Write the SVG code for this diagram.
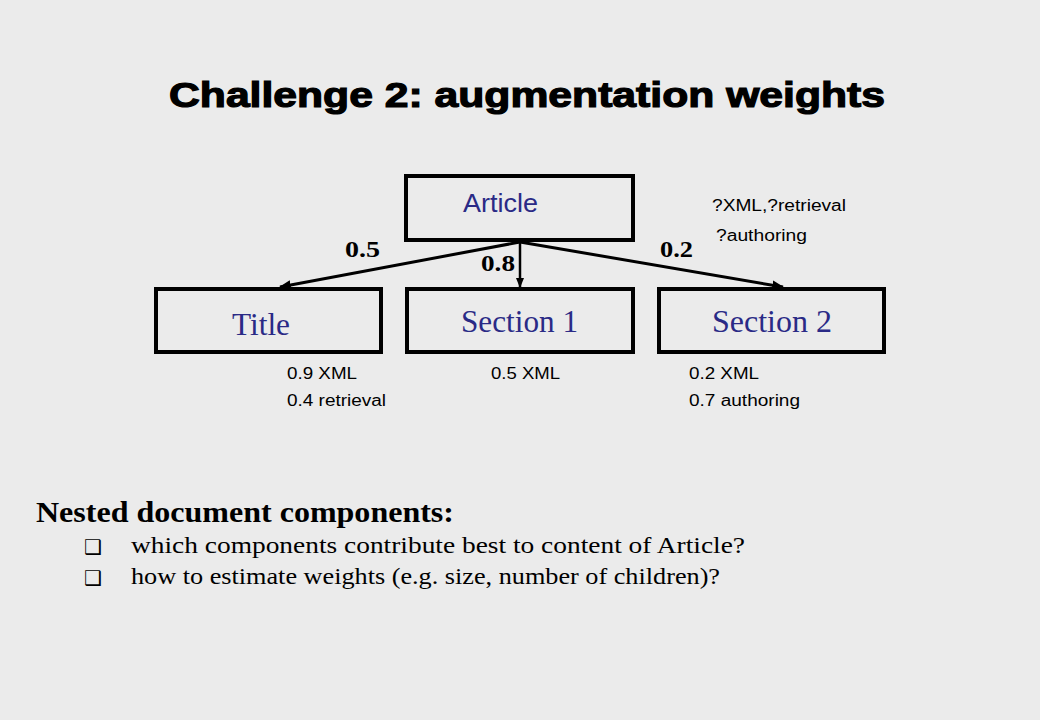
<svg xmlns="http://www.w3.org/2000/svg" width="1040" height="720" viewBox="0 0 1040 720">
<style>
.box{fill:none;stroke:#000;stroke-width:4}
.lbl{font-family:"Liberation Serif",serif;fill:#2a2a86;font-size:31px}
.w{font-family:"Liberation Serif",serif;font-weight:bold;font-size:23px;fill:#000}
.s{font-family:"Liberation Sans",Arial,sans-serif;font-size:16px;fill:#000}
.b{font-family:"Liberation Serif",serif;font-size:24px;fill:#000}
.edge{stroke:#000;fill:none}
</style>
<defs>
<marker id="ah" viewBox="0 0 10 10" refX="9" refY="5" markerWidth="4" markerHeight="4" orient="auto" markerUnits="strokeWidth"><path d="M0,1 L10,5 L0,9 z" fill="#000"/></marker>
</defs>
<rect width="1040" height="720" fill="#ebebeb"/>
<text x="527" y="107" text-anchor="middle" font-family="'Liberation Sans',Arial,sans-serif" font-weight="bold" font-size="35" stroke="#000" stroke-width="1.2" textLength="716" lengthAdjust="spacingAndGlyphs" fill="#000">Challenge 2: augmentation weights</text>
<g id="connectors">
<line class="edge" x1="520" y1="242" x2="280" y2="287" stroke-width="3" marker-end="url(#ah)"/>
<line class="edge" x1="520" y1="242" x2="520" y2="287" stroke-width="2.5" marker-end="url(#ah)"/>
<line class="edge" x1="520" y1="242" x2="783" y2="287" stroke-width="3" marker-end="url(#ah)"/>
<text class="w" x="345" y="257" textLength="35" lengthAdjust="spacingAndGlyphs">0.5</text>
<text class="w" x="481" y="271" textLength="34" lengthAdjust="spacingAndGlyphs">0.8</text>
<text class="w" x="660" y="257" textLength="33" lengthAdjust="spacingAndGlyphs">0.2</text>
</g>
<g id="article">
<rect class="box" x="406" y="176" width="227" height="64"/>
<text x="463" y="212" font-family="'Liberation Sans',Arial,sans-serif" font-size="25" textLength="75" lengthAdjust="spacingAndGlyphs" fill="#2a2a86">Article</text>
</g>
<g id="title">
<rect class="box" x="156" y="289" width="225" height="63"/>
<text class="lbl" x="232" y="335" textLength="58" lengthAdjust="spacingAndGlyphs">Title</text>
</g>
<g id="section1">
<rect class="box" x="407" y="289" width="226" height="63"/>
<text class="lbl" x="461" y="332" textLength="117" lengthAdjust="spacingAndGlyphs">Section 1</text>
</g>
<g id="section2">
<rect class="box" x="659" y="289" width="225" height="63"/>
<text class="lbl" x="712" y="332" textLength="120" lengthAdjust="spacingAndGlyphs">Section 2</text>
</g>
<g id="annotations">
<text class="s" x="712" y="211" textLength="134" lengthAdjust="spacingAndGlyphs">?XML,?retrieval</text>
<text class="s" x="716" y="241" textLength="91" lengthAdjust="spacingAndGlyphs">?authoring</text>
<text class="s" x="287" y="379" textLength="70" lengthAdjust="spacingAndGlyphs">0.9 XML</text>
<text class="s" x="287" y="406" textLength="99" lengthAdjust="spacingAndGlyphs">0.4 retrieval</text>
<text class="s" x="491" y="379" textLength="69" lengthAdjust="spacingAndGlyphs">0.5 XML</text>
<text class="s" x="689" y="379" textLength="70" lengthAdjust="spacingAndGlyphs">0.2 XML</text>
<text class="s" x="689" y="406" textLength="111" lengthAdjust="spacingAndGlyphs">0.7 authoring</text>
</g>
<g id="notes">
<text x="36" y="522" font-family="'Liberation Serif',serif" font-weight="bold" font-size="29" textLength="418" lengthAdjust="spacingAndGlyphs" fill="#000">Nested document components:</text>
<text x="84" y="554" font-family="'DejaVu Sans',sans-serif" font-size="20" fill="#000">❑</text>
<text x="84" y="585" font-family="'DejaVu Sans',sans-serif" font-size="20" fill="#000">❑</text>
<text class="b" x="131" y="553" textLength="614" lengthAdjust="spacingAndGlyphs">which components contribute best to content of Article?</text>
<text class="b" x="131" y="584" textLength="589" lengthAdjust="spacingAndGlyphs">how to estimate weights (e.g. size, number of children)?</text>
</g>
</svg>
